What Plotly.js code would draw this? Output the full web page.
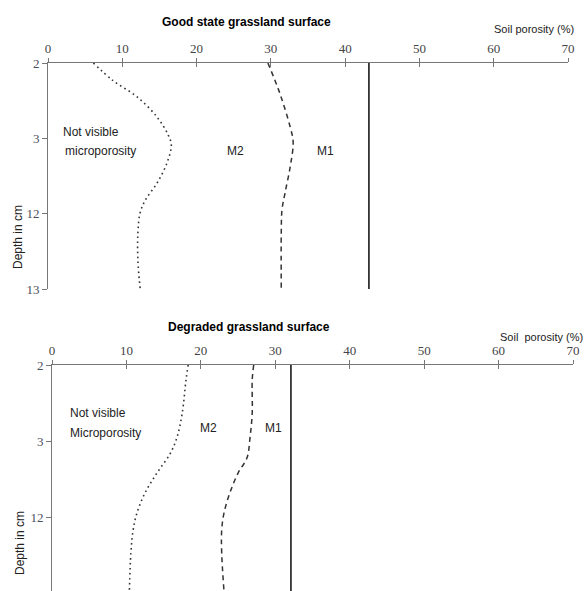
<!DOCTYPE html>
<html>
<head>
<meta charset="utf-8">
<script src="https://cdn.plot.ly/plotly-3.0.1.min.js"></script>
<style>html,body{margin:0;padding:0;background:#fff;}#chart{width:585px;height:591px;}</style>
</head>
<body>
<div id="chart"></div>
<script>
// Depth tick labels (category positions 0..3)
const depthTickVals = [0, 1, 2, 3];
const depthTickText = ["2", "3", "12", "13"];
const porosityTicks = [0, 10, 20, 30, 40, 50, 60, 70];

// Good state grassland surface
const goodM1Depth = [0, 3];
const goodM1Porosity = [43.2, 43.2];
const goodM2Depth = [0, 0.40, 0.85, 1.05, 1.38, 1.73, 1.95, 2.26, 3.0];
const goodM2Porosity = [29.6, 31.2, 32.6, 33.0, 32.6, 31.9, 31.5, 31.4, 31.4];
const goodMicroDepth = [0, 0.23, 0.45, 0.72, 0.96, 1.09, 1.33, 1.59, 1.82, 1.99, 2.26, 2.62, 2.99];
const goodMicroPorosity = [6.1, 8.7, 12.0, 14.7, 16.2, 16.6, 16.0, 14.7, 13.1, 12.4, 12.1, 12.1, 12.4];

// Degraded grassland surface
const degM1Depth = [0, 3];
const degM1Porosity = [32.1, 32.1];
const degM2Depth = [0, 0.20, 0.63, 0.96, 1.22, 1.42, 1.68, 1.95, 2.17, 2.47, 2.96];
const degM2Porosity = [27.1, 26.9, 26.9, 26.6, 26.2, 25.0, 23.9, 23.1, 22.8, 22.8, 23.1];
const degMicroDepth = [0, 0.20, 0.63, 0.95, 1.16, 1.42, 1.68, 1.95, 2.17, 2.47, 2.96];
const degMicroPorosity = [18.3, 18.0, 17.5, 16.8, 15.9, 14.1, 12.5, 11.4, 10.9, 10.6, 10.4];

const W = 585, H = 591;
const px = v => v / W;
const py = v => 1 - v / H;

const lineCol = '#333333';
function tr(x, y, dash, xa, ya, width) {
  return {x: x, y: y, xaxis: xa, yaxis: ya, mode: 'lines', type: 'scatter',
    line: {color: lineCol, width: width || 1.5, dash: dash, shape: 'spline', smoothing: 1},
    hoverinfo: 'skip', showlegend: false};
}

const data = [
  tr(goodM1Porosity, goodM1Depth, 'solid', 'x', 'y', 1.8),
  tr(goodM2Porosity, goodM2Depth, '5px,4px', 'x', 'y'),
  tr(goodMicroPorosity, goodMicroDepth, '1.6px,3.4px', 'x', 'y', 1.6),
  tr(degM1Porosity, degM1Depth, 'solid', 'x2', 'y2', 1.8),
  tr(degM2Porosity, degM2Depth, '5px,4px', 'x2', 'y2'),
  tr(degMicroPorosity, degMicroDepth, '1.6px,3.4px', 'x2', 'y2', 1.6)
];

const serif = "Liberation Serif, Times New Roman, Times, serif";
const tickFont = {family: serif, size: 13, color: '#444'};
const axCol = '#777';

function xAxis(domain, anchor) {
  return {domain: domain, anchor: anchor, side: 'top', range: [0, 70], tickvals: porosityTicks,
    ticks: 'outside', ticklen: 4, tickcolor: axCol, tickwidth: 1, showline: true, linecolor: axCol,
    linewidth: 1, showgrid: false, zeroline: false, tickfont: tickFont, fixedrange: true};
}
function xOver(domain, anchor, over) {
  return {domain: domain, anchor: anchor, overlaying: over, side: 'top', range: [0, 70],
    tickvals: porosityTicks, ticks: 'inside', ticklen: 4, tickcolor: axCol, tickwidth: 1,
    showticklabels: false, showline: false, showgrid: false, zeroline: false};
}
function yAxis(domain, anchor, range) {
  return {domain: domain, anchor: anchor, range: range, tickvals: depthTickVals, ticktext: depthTickText,
    ticks: 'outside', ticklen: 5, tickcolor: axCol, showline: true, linecolor: axCol, linewidth: 1,
    showgrid: false, zeroline: false, tickfont: {family: serif, size: 13, color: '#4a5060'},
    fixedrange: true};
}

const annFont = {family: 'Liberation Sans, Arial, sans-serif', size: 12, color: '#222'};
function ann(text, x, y, xref, yref, opts) {
  return Object.assign({text: text, x: x, y: y, xref: xref, yref: yref, showarrow: false,
    font: annFont, xanchor: 'left', yanchor: 'middle'}, opts || {});
}
const titleFont = {family: 'Liberation Sans, Arial, sans-serif', size: 12, color: '#000'};
const smallFont = Object.assign({}, annFont, {size: 11});

const layout = {
  width: W, height: H,
  margin: {l: 0, r: 0, t: 0, b: 0},
  paper_bgcolor: '#fff', plot_bgcolor: '#fff',
  showlegend: false,
  xaxis: xAxis([px(48), px(568)], 'y'),
  yaxis: yAxis([py(289), py(63)], 'x', [3, 0]),
  xaxis2: xAxis([px(52), px(573)], 'y2'),
  yaxis2: yAxis([0, py(365)], 'x2', [2.97, 0]),
  xaxis3: xOver([px(48), px(568)], 'y', 'x'),
  xaxis4: xOver([px(52), px(573)], 'y2', 'x2'),
  annotations: [
    ann('<b>Good state grassland surface</b>', px(246), py(22), 'paper', 'paper', {xanchor: 'center', font: titleFont}),
    ann('Soil porosity (%)', px(576), py(29), 'paper', 'paper', {xanchor: 'right', font: smallFont}),
    ann('Depth in cm', px(18), py(237), 'paper', 'paper', {xanchor: 'center', textangle: -90}),
    ann('Not visible', 1.75, 0.92, 'x', 'y'),
    ann('microporosity', 2.0, 1.17, 'x', 'y'),
    ann('M2', 25.3, 1.17, 'x', 'y', {xanchor: 'center'}),
    ann('M1', 37.3, 1.17, 'x', 'y', {xanchor: 'center'}),

    ann('<b>Degraded grassland surface</b>', px(249), py(327), 'paper', 'paper', {xanchor: 'center', font: titleFont}),
    ann('Soil\u00a0 porosity (%)', px(585), py(337), 'paper', 'paper', {xanchor: 'right', font: smallFont}),
    ann('Depth in cm', px(20), py(543), 'paper', 'paper', {xanchor: 'center', textangle: -90}),
    ann('Not visible', 2.15, 0.63, 'x2', 'y2'),
    ann('Microporosity', 2.15, 0.89, 'x2', 'y2'),
    ann('M2', 21.0, 0.83, 'x2', 'y2', {xanchor: 'center'}),
    ann('M1', 29.7, 0.83, 'x2', 'y2', {xanchor: 'center'})
  ]
};

// empty traces so that the overlay tick axes are drawn
data.push({x: [null], y: [null], xaxis: 'x3', yaxis: 'y', type: 'scatter', showlegend: false, hoverinfo: 'skip'});
data.push({x: [null], y: [null], xaxis: 'x4', yaxis: 'y2', type: 'scatter', showlegend: false, hoverinfo: 'skip'});

Plotly.newPlot('chart', data, layout, {displayModeBar: false, staticPlot: true});
</script>
</body>
</html>
